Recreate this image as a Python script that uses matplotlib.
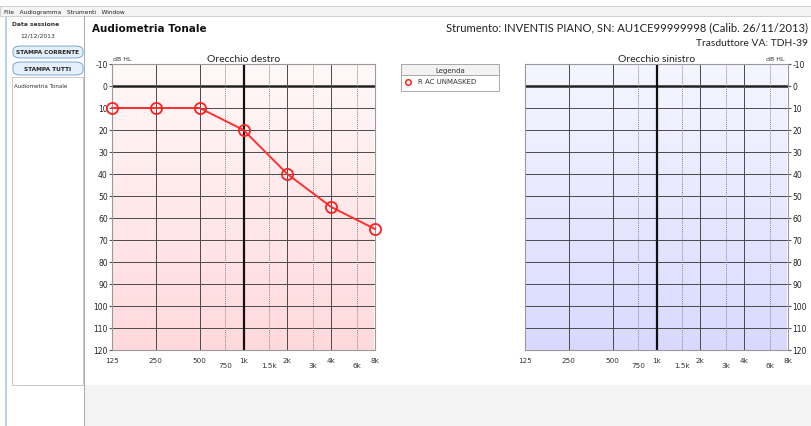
import numpy as np
import matplotlib
matplotlib.use("Agg")
import matplotlib.pyplot as plt
from matplotlib.colors import LinearSegmentedColormap
from matplotlib.patches import Rectangle, FancyBboxPatch
from matplotlib.lines import Line2D

W, H = 811, 427

# data
main_freqs = [125, 250, 500, 1000, 2000, 4000, 8000]
main_labels = ["125", "250", "500", "1k", "2k", "4k", "8k"]
mid_freqs = [750, 1500, 3000, 6000]
mid_labels = ["750", "1.5k", "3k", "6k"]
db_levels = list(range(-10, 130, 10))
right_freqs = [125, 250, 500, 1000, 2000, 4000, 8000]
right_db = [10, 10, 10, 20, 40, 55, 65]

fig = plt.figure(figsize=(W / 100, H / 100), dpi=100)
fig.patch.set_facecolor("white")


def fx(x):
    return x / W


def fy(y):
    return 1 - y / H


def rect(x0, y0, x1, y1, **kw):
    fig.patches.append(Rectangle((fx(x0), fy(y1)), fx(x1 - x0), (y1 - y0) / H,
                                 transform=fig.transFigure, **kw))


def text(x, y, s, **kw):
    fig.text(fx(x), fy(y), s, **kw)


# window chrome
rect(0, 7, W, 17, facecolor="#f4f4f4", edgecolor="#c8c8c8", lw=0.6)
text(4, 12.5, "File   Audiogramma   Strumenti   Window", fontsize=4.2, va="center", color="#222")
rect(5, 17, 7, H, facecolor="#b9d3ee", edgecolor="none")
rect(85, 386, W, H, facecolor="#f3f3f3", edgecolor="none")
fig.lines.append(Line2D([fx(84), fx(84)], [fy(17), fy(H)], transform=fig.transFigure, color="#b0b0b0", lw=0.8))

# left panel
text(12, 25, "Data sessione", fontsize=4.3, weight="bold", va="center", color="#333")
text(20, 36, "12/12/2013", fontsize=4.3, va="center", color="#333")
for y0, y1, lab in [(47, 59, "STAMPA CORRENTE"), (63, 76, "STAMPA TUTTI")]:
    fig.patches.append(FancyBboxPatch((fx(13), fy(y1)), fx(70), (y1 - y0) / H,
                                      boxstyle="round,pad=0,rounding_size=0.01",
                                      transform=fig.transFigure, facecolor="#e3f0fb",
                                      edgecolor="#7fa7cf", lw=0.7))
    text(48, (y0 + y1) / 2, lab, fontsize=4.2, weight="bold", ha="center", va="center", color="#222")
rect(12, 78, 83, 386, facecolor="white", edgecolor="#c0c0c0", lw=0.6)
text(14, 86, "Audiometria Tonale", fontsize=4.0, va="center", color="#333")

# header texts
text(92, 29, "Audiometria Tonale", fontsize=7.5, weight="bold", va="center", color="#111")
text(808, 28, "Strumento: INVENTIS PIANO, SN: AU1CE99999998 (Calib. 26/11/2013)",
     fontsize=8.1, ha="right", va="center", color="#222", family="Lato")
text(808, 44, "Trasduttore VA: TDH-39", fontsize=7.4, ha="right", va="center", color="#222", family="Lato")


def audiogram(x0, x1, top_col, bot_col, title, right_side):
    ax = fig.add_axes([fx(x0), fy(351), fx(x1 - x0), (351 - 65) / H])
    ax.set_xscale("log", base=2)
    ax.set_xlim(125, 8000)
    ax.set_ylim(120, -10)
    cmap = LinearSegmentedColormap.from_list("bg", [top_col, bot_col])
    grad = np.linspace(0, 1, 256).reshape(-1, 1)
    ax.imshow(grad, cmap=cmap, aspect="auto", extent=[125, 8000, 120, -10], zorder=0)
    for d in db_levels:
        if d == 0:
            ax.axhline(d, color="#222", lw=1.8, zorder=1)
        else:
            ax.axhline(d, color="#4a4a4a", lw=0.7, zorder=1)
    for f in main_freqs:
        if f == 1000:
            ax.axvline(f, color="#111", lw=1.6, zorder=1)
        else:
            ax.axvline(f, color="#4a4a4a", lw=0.7, zorder=1)
    for f in mid_freqs:
        ax.axvline(f, color="#888", lw=0.7, ls=(0, (1, 1)), zorder=1)
    for sp in ax.spines.values():
        sp.set_color("#999")
        sp.set_linewidth(0.8)
    ax.set_xticks([])
    ax.set_xticks([], minor=True)
    ax.set_yticks(db_levels)
    ax.set_yticklabels([str(d) for d in db_levels], fontsize=5.5, color="#222")
    ax.tick_params(axis="y", length=2, pad=1, color="#555")
    if right_side:
        ax.yaxis.tick_right()
    for f, lab in zip(main_freqs, main_labels):
        ax.text(f, 124.5, lab, fontsize=5.2, ha="center", va="center", color="#333")
    for f, lab in zip(mid_freqs, mid_labels):
        ax.text(f, 126.8, lab, fontsize=5.2, ha="center", va="center", color="#333")
    ax.set_title(title, fontsize=7.5, pad=2, color="#222", family="Lato")
    if right_side:
        text(x1 - 3, 60, "dB HL", fontsize=4.5, ha="right", va="center", color="#333")
    else:
        text(x0 + 1, 60, "dB HL", fontsize=4.5, ha="left", va="center", color="#333")
    return ax


ax_r = audiogram(112, 375, "#fff8f8", "#ffd9dc", "Orecchio destro", False)
ax_l = audiogram(525, 788, "#f6f6ff", "#d9d9ff", "Orecchio sinistro", True)

ax_r.plot(right_freqs, right_db, color="#ff3030", lw=1.4, marker="o", ms=8,
          mfc="none", mec="#ff2020", mew=1.3, zorder=5, clip_on=False)

# legend box
rect(401, 65, 499, 92, facecolor="white", edgecolor="#a8a8a8", lw=0.7)
rect(401, 65, 499, 76, facecolor="#f2f2f2", edgecolor="#a8a8a8", lw=0.7)
text(450, 70.5, "Legenda", fontsize=5, ha="center", va="center", color="#333")
fig.lines.append(Line2D([fx(408)], [fy(82.5)], transform=fig.transFigure, marker="o", ms=4,
                        mfc="none", mec="#ff2020", mew=1.1, ls="none"))
text(418, 82.5, "R AC UNMASKED", fontsize=5, va="center", color="#333")

fig.savefig("out.png", dpi=100)
